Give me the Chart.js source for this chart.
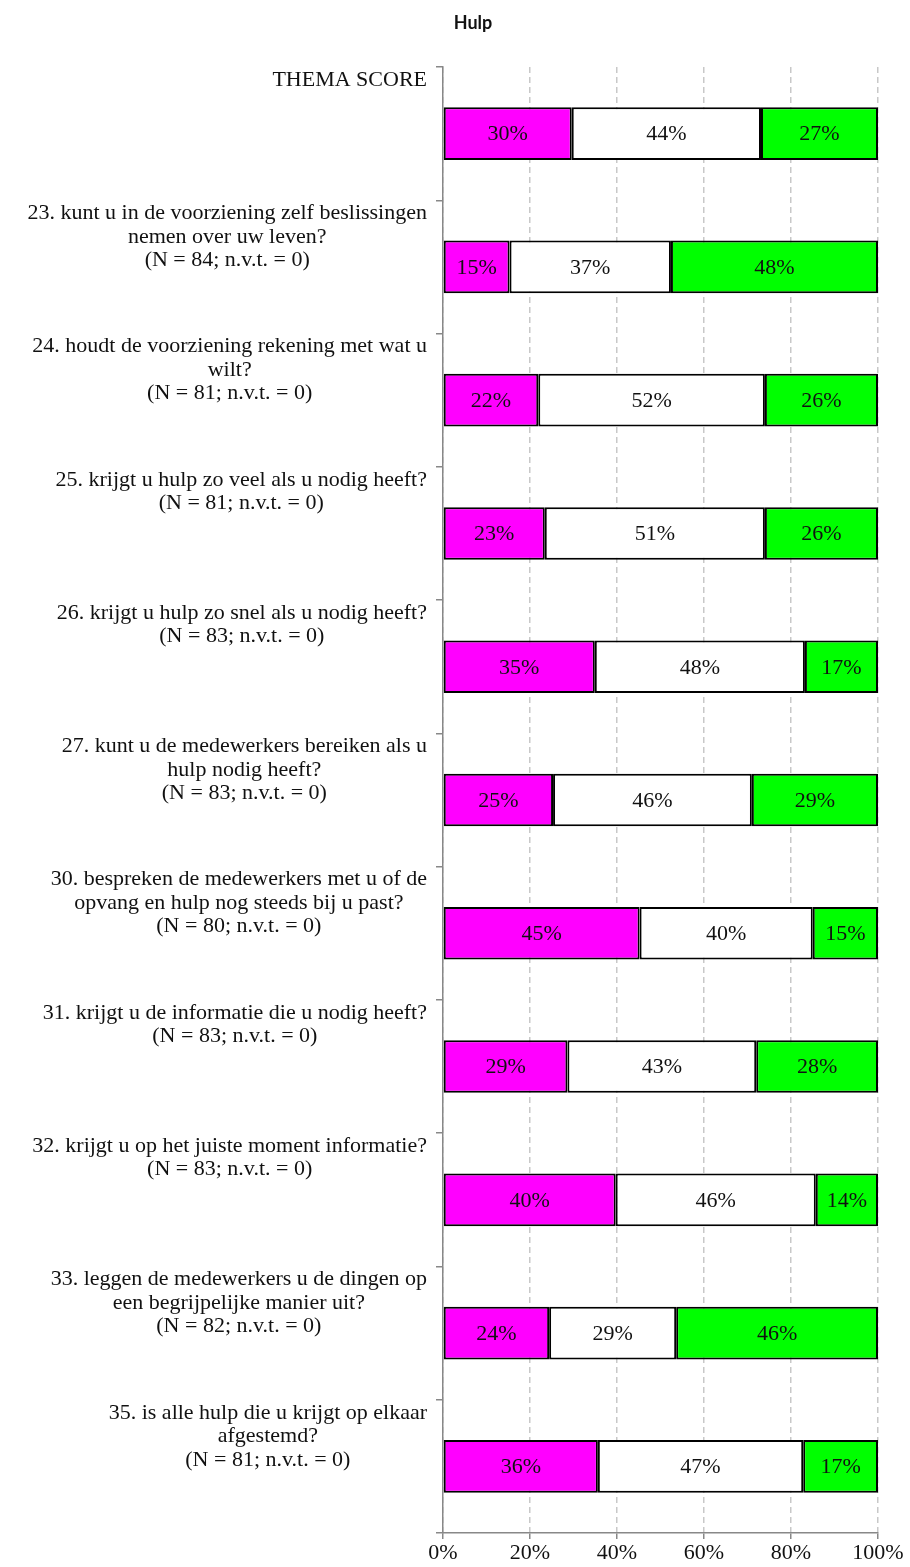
<!DOCTYPE html>
<html>
<head>
<meta charset="utf-8">
<script src="https://cdn.jsdelivr.net/npm/chart.js@4"></script>
<style>
    body { margin: 0; background: #fff; }
    #wrap { width: 910px; height: 1567px; }
</style>
</head>
<body>
<div id="wrap"><canvas id="hulpChart"></canvas></div>
<script>
// Categories (each one split in lines like the original)
const categories = [
    ['THEMA SCORE'],
    ['23. kunt u in de voorziening zelf beslissingen', 'nemen over uw leven?', '(N = 84; n.v.t. = 0)'],
    ['24. houdt de voorziening rekening met wat u', 'wilt?', '(N = 81; n.v.t. = 0)'],
    ['25. krijgt u hulp zo veel als u nodig heeft?', '(N = 81; n.v.t. = 0)'],
    ['26. krijgt u hulp zo snel als u nodig heeft?', '(N = 83; n.v.t. = 0)'],
    ['27. kunt u de medewerkers bereiken als u', 'hulp nodig heeft?', '(N = 83; n.v.t. = 0)'],
    ['30. bespreken de medewerkers met u of de', 'opvang en hulp nog steeds bij u past?', '(N = 80; n.v.t. = 0)'],
    ['31. krijgt u de informatie die u nodig heeft?', '(N = 83; n.v.t. = 0)'],
    ['32. krijgt u op het juiste moment informatie?', '(N = 83; n.v.t. = 0)'],
    ['33. leggen de medewerkers u de dingen op', 'een begrijpelijke manier uit?', '(N = 82; n.v.t. = 0)'],
    ['35. is alle hulp die u krijgt op elkaar', 'afgestemd?', '(N = 81; n.v.t. = 0)']
];

// Series values (percent)
const magentaValues = [29.6, 15.3, 21.9, 23.4, 34.9, 25.3, 45.2, 28.6, 39.7, 24.4, 35.6];
const whiteValues   = [43.5, 37.1, 52.1, 50.6, 48.3, 45.7, 39.8, 43.4, 46.0, 29.2, 47.2];
const greenValues   = [26.9, 47.6, 26.0, 26.0, 16.8, 29.0, 15.0, 28.0, 14.3, 46.4, 17.2];

// X axis ticks
const xTicks = [0, 20, 40, 60, 80, 100];

const serif = '"Liberation Serif", "DejaVu Serif", serif';

// Left side question labels, placed at the top of each category slot
const sideLabels = {
    id: 'sideLabels',
    afterDraw(chart) {
        const ctx = chart.ctx;
        const y = chart.scales.y;
        const slot = y.getPixelForValue(1) - y.getPixelForValue(0);
        const right = chart.chartArea.left - 16;
        ctx.save();
        ctx.font = '22px ' + serif;
        ctx.fillStyle = '#111';
        ctx.textAlign = 'center';
        ctx.textBaseline = 'middle';
        chart.data.labels.forEach((lines, i) => {
            const top = y.getPixelForValue(i) - slot / 2;
            const w = Math.max(...lines.map(l => ctx.measureText(l).width));
            const cx = right - w / 2;
            lines.forEach((l, j) => ctx.fillText(l, cx, top + 13 + j * 23.5));
        });
        ctx.restore();
    }
};

// Percent labels inside the bars
const barLabels = {
    id: 'barLabels',
    afterDatasetsDraw(chart) {
        const ctx = chart.ctx;
        ctx.save();
        ctx.font = '22px ' + serif;
        ctx.fillStyle = '#111';
        ctx.textAlign = 'center';
        ctx.textBaseline = 'middle';
        chart.data.datasets.forEach((ds, di) => {
            chart.getDatasetMeta(di).data.forEach((bar, i) => {
                const cx = (bar.x + bar.base) / 2;
                ctx.fillText(Math.round(ds.data[i]) + '%', cx, bar.y + 1);
            });
        });
        ctx.restore();
    }
};

const ctx = document.getElementById('hulpChart');
new Chart(ctx, {
    type: 'bar',
    data: {
        labels: categories,
        datasets: [
            { label: 'Reeks 1', data: magentaValues, backgroundColor: '#ff00ff' },
            { label: 'Reeks 2', data: whiteValues, backgroundColor: '#ffffff' },
            { label: 'Reeks 3', data: greenValues, backgroundColor: '#00ff00' }
        ].map(ds => Object.assign(ds, {
            borderColor: '#000',
            borderWidth: 2,
            borderSkipped: false,
            barPercentage: 0.395,
            categoryPercentage: 1
        }))
    },
    options: {
        indexAxis: 'y',
        responsive: true,
        maintainAspectRatio: false,
        animation: false,
        layout: { padding: { left: 68, right: 32, top: 0, bottom: 0 } },
        plugins: {
            legend: { display: false },
            tooltip: { enabled: false },
            title: {
                display: true,
                text: 'Hulp',
                color: '#111',
                font: { family: 'Lato, "Open Sans", sans-serif', size: 18, weight: 'bold' },
                padding: { top: 12, bottom: 33.4 }
            }
        },
        scales: {
            x: {
                stacked: true,
                min: 0,
                max: 100,
                afterFit: scale => { scale.height = 34; },
                afterBuildTicks: scale => { scale.ticks = xTicks.map(v => ({ value: v })); },
                ticks: {
                    callback: v => v + '%',
                    color: '#111',
                    font: { family: serif, size: 22 },
                    padding: 1,
                    maxRotation: 0
                },
                grid: {
                    color: '#c8c8c8',
                    lineWidth: 1.5,
                    tickColor: '#888',
                    tickBorderDash: [],
                    tickLength: 6
                },
                border: { display: true, color: '#888', width: 1.5, dash: [6, 4] }
            },
            y: {
                stacked: true,
                afterFit: scale => { scale.width = 375; },
                ticks: { display: false },
                grid: {
                    offset: true,
                    drawOnChartArea: false,
                    color: '#888',
                    lineWidth: 1.5,
                    tickLength: 7
                },
                border: { display: true, color: '#888', width: 1.5 }
            }
        }
    },
    plugins: [sideLabels, barLabels]
});
</script>
</body>
</html>
